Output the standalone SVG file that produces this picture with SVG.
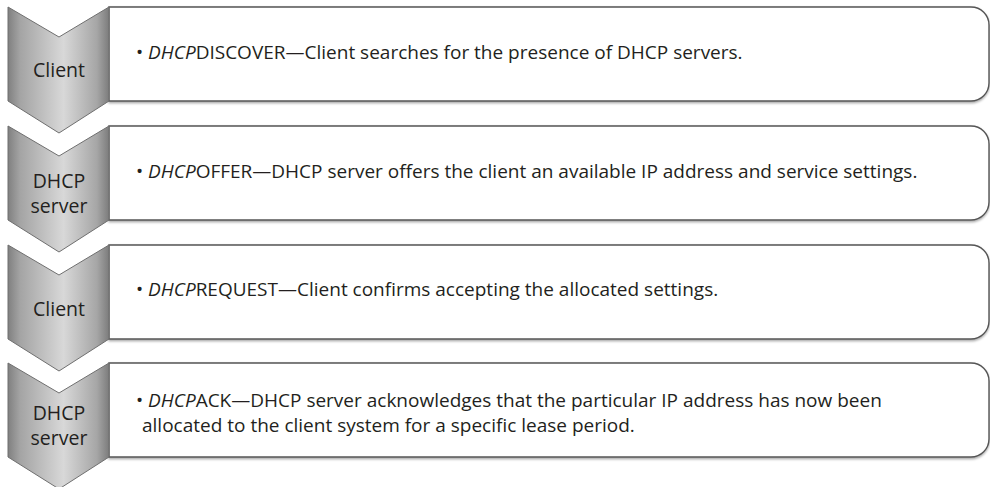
<svg xmlns="http://www.w3.org/2000/svg" width="990" height="487" viewBox="0 0 990 487">
<defs>
  <linearGradient id="chev" x1="0" y1="0" x2="1" y2="0">
    <stop offset="0" stop-color="#808080"/>
    <stop offset="0.12" stop-color="#a4a4a4"/>
    <stop offset="0.55" stop-color="#d8d8d8"/>
    <stop offset="0.88" stop-color="#a6a6a6"/>
    <stop offset="1" stop-color="#7c7c7c"/>
  </linearGradient>
  <filter id="sh" x="-5%" y="-10%" width="110%" height="130%">
    <feDropShadow dx="0" dy="1.5" stdDeviation="1.2" flood-color="#000" flood-opacity="0.35"/>
  </filter>
  <path id="chevshape" d="M0,0 L51,30 L101,0 L101,94 L51,126 L0,94 Z"/>
  <path id="boxshape" d="M109,0 L971,0 A18,18 0 0 1 989,18 L989,76 A18,18 0 0 1 971,94 L109,94 Z"/>
</defs>
<style>
  .box { fill:#ffffff; stroke:#555555; stroke-width:1.4; filter:url(#sh); }
  .chev { fill:url(#chev); stroke:#6f6f6f; stroke-width:1; }
  .lbl { font-family:"Open Sans","Noto Sans",sans-serif; font-size:19.5px; fill:#231f20; text-anchor:middle; }
  .txt { font-family:"Open Sans","Noto Sans",sans-serif; font-size:19px; fill:#231f20; }
  .it { font-style:italic; }
</style>

<g id="connectors"></g>

<g id="step1">
  <use href="#boxshape" class="box" transform="translate(0,7)"/>
  <use href="#chevshape" class="chev" transform="translate(8,7)"/>
  <text class="lbl" x="59" y="77">Client</text>
  <text class="txt" x="136" y="59">• <tspan class="it">DHCP</tspan>DISCOVER—Client searches for the presence of DHCP servers.</text>
</g>

<g id="step2">
  <use href="#boxshape" class="box" transform="translate(0,126)"/>
  <use href="#chevshape" class="chev" transform="translate(8,126)"/>
  <text class="lbl" x="59" y="188">DHCP</text>
  <text class="lbl" x="59" y="213">server</text>
  <text class="txt" x="136" y="177.5">• <tspan class="it">DHCP</tspan>OFFER—DHCP server offers the client an available IP address and service settings.</text>
</g>

<g id="step3">
  <use href="#boxshape" class="box" transform="translate(0,245)"/>
  <use href="#chevshape" class="chev" transform="translate(8,245)"/>
  <text class="lbl" x="59" y="316">Client</text>
  <text class="txt" x="136" y="296">• <tspan class="it">DHCP</tspan>REQUEST—Client confirms accepting the allocated settings.</text>
</g>

<g id="step4">
  <use href="#boxshape" class="box" transform="translate(0,363)"/>
  <use href="#chevshape" class="chev" transform="translate(8,363)"/>
  <text class="lbl" x="59" y="420">DHCP</text>
  <text class="lbl" x="59" y="445">server</text>
  <text class="txt" x="136" y="407">• <tspan class="it">DHCP</tspan>ACK—DHCP server acknowledges that the particular IP address has now been</text>
  <text class="txt" x="142" y="432">allocated to the client system for a specific lease period.</text>
</g>
</svg>
